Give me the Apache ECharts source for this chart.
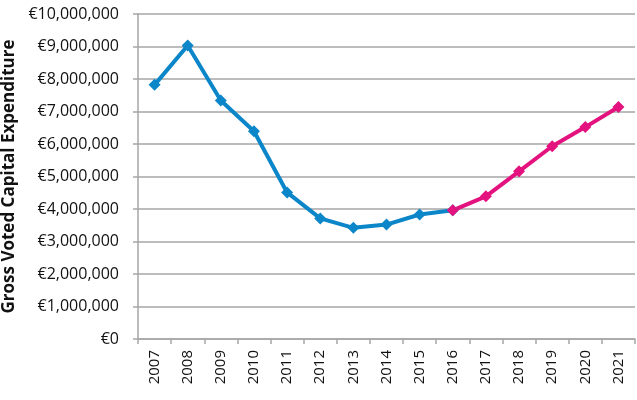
<!DOCTYPE html>
<html>
<head>
<meta charset="utf-8">
<script src="https://cdn.jsdelivr.net/npm/echarts@6/dist/echarts.min.js"></script>
<style>
  html, body { margin: 0; padding: 0; background: #fff; }
  #chart { width: 637px; height: 400px; }
</style>
</head>
<body>
<div id="chart"></div>
<script>
  // years on the x axis
  var years = ['2007', '2008', '2009', '2010', '2011', '2012', '2013', '2014',
               '2015', '2016', '2017', '2018', '2019', '2020', '2021'];
  // actual spend 2007-2016 (blue)
  var actual = [7820000, 9030000, 7340000, 6390000, 4510000, 3710000, 3420000, 3520000,
                3830000, 3960000, null, null, null, null, null];
  // projected spend 2016-2021 (pink)
  var projected = [null, null, null, null, null, null, null, null,
                   null, 3960000, 4390000, 5160000, 5930000, 6520000, 7140000];

  var font = '"Open Sans", Lato, sans-serif';

  function euro(v) {
    return '\u20ac' + v.toString().replace(/\B(?=(\d{3})+(?!\d))/g, ',');
  }

  var myChart = echarts.init(document.getElementById('chart'));
  var option = {
    animation: false,
    grid: { left: 138, right: 2, top: 14, bottom: 61, outerBoundsMode: 'none', containLabel: false },
    xAxis: {
      type: 'category',
      data: years,
      boundaryGap: true,
      axisLine: { lineStyle: { color: '#a6a6a6', width: 1.5 } },
      axisTick: { show: true, length: 5, lineStyle: { color: '#a6a6a6', width: 1.5 } },
      axisLabel: {
        rotate: 90, interval: 0, margin: 11,
        color: '#111', fontSize: 15, fontFamily: font
      }
    },
    yAxis: {
      type: 'value',
      min: 0, max: 10000000, interval: 1000000,
      name: 'Gross Voted Capital Expenditure',
      nameLocation: 'middle',
      nameGap: 119,
      nameTextStyle: { fontSize: 17, fontWeight: 'bold', color: '#111', fontFamily: font },
      axisLine: { show: true, lineStyle: { color: '#a6a6a6', width: 1.5 } },
      axisTick: { show: true, length: 5, lineStyle: { color: '#a6a6a6', width: 1.5 } },
      splitLine: { lineStyle: { color: '#a6a6a6', width: 1.5 } },
      axisLabel: {
        margin: 19, color: '#111', fontSize: 16, fontFamily: font,
        formatter: euro
      }
    },
    series: [
      {
        name: 'Actual', type: 'line', data: actual,
        symbol: 'diamond', symbolSize: 12,
        itemStyle: { color: '#0a86c9' },
        lineStyle: { color: '#0a86c9', width: 4 }
      },
      {
        name: 'Projected', type: 'line', data: projected,
        symbol: 'diamond', symbolSize: 12,
        itemStyle: { color: '#e3127f' },
        lineStyle: { color: '#e3127f', width: 4 }
      }
    ]
  };
  myChart.setOption(option);
</script>
</body>
</html>
